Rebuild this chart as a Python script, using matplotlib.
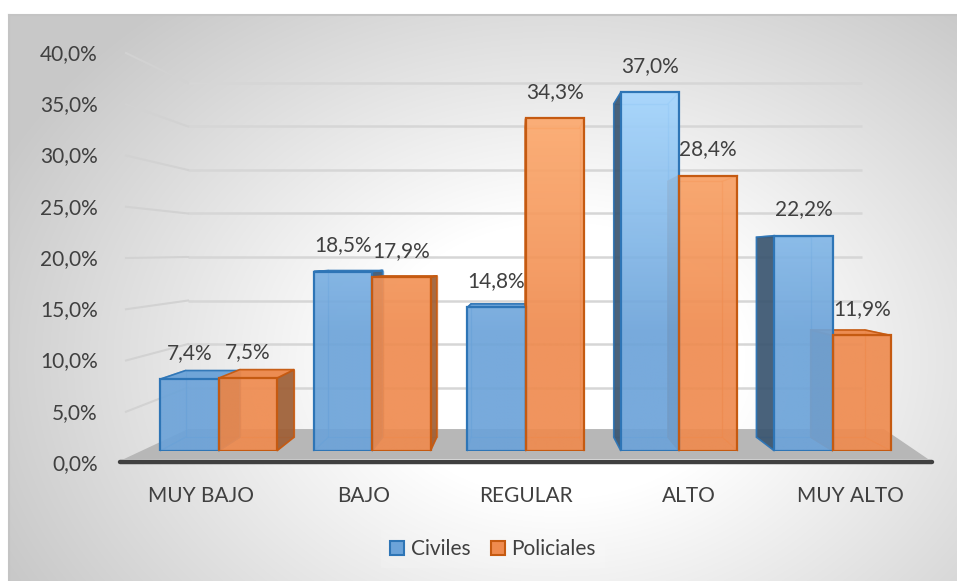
import numpy as np
import matplotlib
matplotlib.use("Agg")
import matplotlib.pyplot as plt
from matplotlib.patches import Polygon, Patch
from matplotlib.colors import to_rgb

# ---------------- data ----------------
categories = ["MUY BAJO", "BAJO", "REGULAR", "ALTO", "MUY ALTO"]
series_names = ["Civiles", "Policiales"]
civiles = [7.4, 18.5, 14.8, 37.0, 22.2]
policiales = [7.5, 17.9, 34.3, 28.4, 11.9]
y_ticks = [0, 5, 10, 15, 20, 25, 30, 35, 40]
y_tick_labels = ["0,0%", "5,0%", "10,0%", "15,0%", "20,0%", "25,0%", "30,0%", "35,0%", "40,0%"]

# ---------------- style ----------------
W, H = 957, 581
FONT = "Lato"
TXT = "#404040"
plt.rcParams["font.family"] = [FONT, "DejaVu Sans"]

STYLE = {
    "Civiles": dict(base="#6CA3D9", light="#A6D7FF", edge="#2E75B6", side="#3A5570",
                    top="#6AA2D8", inner="#4F8FCB"),
    "Policiales": dict(base="#EF8B4F", light="#FFAE72", edge="#C55A11", side="#9E5E35",
                       top="#EC8749", inner="#E07A3A"),
}

VPX, VPY = 520.0, 257.0          # vanishing point (image pixels)
S_BAR_FRONT = 0.945              # bar front plane depth factor
S_BAR_DEPTH = 0.93               # bar back relative to bar front
S_WALL_X, S_WALL_Y = 0.83, 0.849  # back wall depth factors

fig = plt.figure(figsize=(W / 100, H / 100), dpi=100)

# ---------------- background (pixel coordinates) ----------------
ax_bg = fig.add_axes([0, 0, 1, 1])
ax_bg.set_xlim(0, W)
ax_bg.set_ylim(H, 0)
ax_bg.axis("off")
yy, xx = np.mgrid[0:H, 0:W]
d = np.sqrt(((xx - 560) / 560.0) ** 2 + ((yy - 360) / 420.0) ** 2)
t = np.clip((d - 0.33) / 0.78, 0, 1)
g = (255 - 55 * t) / 255.0
g[(xx < 8) | (yy < 14)] = 1.0
ax_bg.imshow(np.dstack([g, g, g]), extent=(0, W, H, 0), aspect="auto",
             interpolation="bilinear", zorder=0)
ax_bg.plot([8.5, 8.5], [H, 14.5], color="#C4C4C4", lw=1.5, zorder=1)
ax_bg.plot([8.5, W], [14.5, 14.5], color="#C4C4C4", lw=1.5, zorder=1)
ax_bg.set_xlim(0, W)
ax_bg.set_ylim(H, 0)
ax_bg.set_autoscale_on(False)

# ---------------- front (tick) plane ----------------
L, R, B0, T40 = 120, 932, 462, 52
ax_t = fig.add_axes([L / W, 1 - B0 / H, (R - L) / W, (B0 - T40) / H])
ax_t.set_xlim(-0.5, len(categories) - 0.5)
ax_t.set_ylim(0, 40)
ax_t.set_autoscale_on(False)
ax_t.patch.set_visible(False)
for sp in ax_t.spines.values():
    sp.set_visible(False)
ax_t.set_yticks(y_ticks)
ax_t.set_yticklabels(y_tick_labels)
ax_t.set_xticks(range(len(categories)))
ax_t.set_xticklabels(categories)
ax_t.tick_params(axis="both", length=0, labelsize=15, labelcolor=TXT)
ax_t.tick_params(axis="y", pad=16)
ax_t.tick_params(axis="x", pad=17)
ax_t.plot([-0.5, len(categories) - 0.5], [0, 0], color="#404040", lw=3.2,
          solid_capstyle="round", clip_on=False, zorder=5)


def to_px(ax, x, y):
    pts = ax.transData.transform(np.column_stack([np.atleast_1d(x), np.atleast_1d(y)]))
    return pts[:, 0], H - pts[:, 1]


def persp(px, py, sx, sy=None):
    sy = sx if sy is None else sy
    return VPX + sx * (np.asarray(px) - VPX), VPY + sy * (np.asarray(py) - VPY)


# back wall + side wall gridlines
for v in y_ticks[1:]:
    fx, fy = to_px(ax_t, [-0.5, len(categories) - 0.5], [v, v])
    wx, wy = persp(fx, fy, S_WALL_X, S_WALL_Y)
    ax_bg.plot(wx, wy, color="#D6D6D6", lw=1.8, zorder=2, solid_capstyle="butt")
    ax_bg.plot([fx[0] + 6, wx[0]], [fy[0] + 1, wy[0]], color="#D2D2D2", lw=1.5, zorder=2)

# floor
fx, fy = to_px(ax_t, [-0.5, len(categories) - 0.5], [0, 0])
wx, wy = persp(fx, fy, S_WALL_X, S_WALL_Y)
floor = Polygon([(fx[0] + 4, fy[0] - 3), (wx[0], wy[0] - 2), (wx[1] + 22, wy[1] - 2),
                 (fx[1] - 4, fy[1] - 3)], closed=True, facecolor="#B7B7B7",
                edgecolor="none", zorder=3)
ax_bg.add_patch(floor)

# ---------------- bar plane ----------------
bx, by = persp([L, R], [B0, T40], S_BAR_FRONT)
ax_b = fig.add_axes([bx[0] / W, 1 - by[0] / H, (bx[1] - bx[0]) / W, (by[0] - by[1]) / H])
ax_b.axis("off")
ax_b.set_xlim(-0.5, len(categories) - 0.5)
ax_b.set_ylim(0, 40)
ax_b.set_autoscale_on(False)

x = np.arange(len(categories))
w = 0.38
series = [(series_names[0], civiles, x - w / 2), (series_names[1], policiales, x + w / 2)]


def color_at(st, v):
    c0 = np.array(to_rgb(st["base"]))
    c1 = np.array(to_rgb(st["light"]))
    f = np.clip((v - 12.0) / 26.0, 0, 1)[:, None]
    return c0 + (c1 - c0) * f


for name, vals, xs in series:
    st = STYLE[name]
    bars = ax_b.bar(xs, vals, w, facecolor="none", edgecolor=st["edge"], lw=1.6, zorder=4)
    for rect, xc, v in zip(bars, xs, vals):
        # gradient front face
        hv = np.linspace(0, v, 120)
        cols = color_at(st, hv)
        rgba = np.concatenate([cols, np.full((len(hv), 1), 0.92)], axis=1)[:, None, :]
        im = ax_b.imshow(rgba, extent=(xc - w / 2, xc + w / 2, 0, v), origin="lower",
                         aspect="auto", interpolation="bilinear", zorder=3)
        im.set_clip_path(rect)

        # 3D faces computed from the bar geometry
        x0, x1 = xc - w / 2, xc + w / 2
        fxs, fys = to_px(ax_b, [x0, x1, x1, x0], [0, 0, v, v])
        bxs, bys = persp(fxs, fys, S_BAR_DEPTH)
        # back outline (seen through)
        ax_bg.add_patch(Polygon(np.column_stack([bxs, bys]), closed=True, facecolor="none",
                                edgecolor=st["inner"], lw=1.0, alpha=0.7, zorder=5))
        for k in range(4):
            ax_bg.plot([fxs[k], bxs[k]], [fys[k], bys[k]], color=st["inner"], lw=1.0,
                       alpha=0.7, zorder=5)
        # side face
        cx = fxs[:2].mean()
        if cx < VPX:
            side = [(fxs[1], fys[1]), (fxs[2], fys[2]), (bxs[2], bys[2]), (bxs[1], bys[1])]
        else:
            side = [(fxs[0], fys[0]), (fxs[3], fys[3]), (bxs[3], bys[3]), (bxs[0], bys[0])]
        ax_bg.add_patch(Polygon(side, closed=True, facecolor=st["side"], edgecolor=st["edge"],
                                lw=1.2, alpha=0.92, zorder=6))
        # top face
        if fys[2] > VPY:
            top = [(fxs[3], fys[3]), (fxs[2], fys[2]), (bxs[2], bys[2]), (bxs[3], bys[3])]
            ax_bg.add_patch(Polygon(top, closed=True, facecolor=st["top"], edgecolor=st["edge"],
                                    lw=1.2, alpha=0.95, zorder=6))
        # data label
        ax_b.annotate(f"{v:.1f}".replace(".", ",") + "%", (xc, v), xytext=(0, 19),
                      textcoords="offset points", ha="center", va="center",
                      fontsize=15, color=TXT, zorder=10)

ax_b.set_xlim(-0.5, len(categories) - 0.5)
ax_b.set_ylim(0, 40)

# ---------------- legend ----------------
handles = [Patch(facecolor=STYLE[n]["base"], edgecolor=STYLE[n]["edge"], lw=1.5)
           for n in series_names]
leg = fig.legend(handles, series_names, loc="center", bbox_to_anchor=(493 / W, 1 - 549 / H),
                 ncol=2, frameon=True, fontsize=15, handlelength=0.68, handleheight=0.68,
                 handletextpad=0.3, columnspacing=1.0, fancybox=False, borderpad=0.45)
leg.get_frame().set_facecolor("white")
leg.get_frame().set_alpha(0.12)
leg.get_frame().set_edgecolor("none")
for txt in leg.get_texts():
    txt.set_color(TXT)

fig.savefig("out.png", dpi=100)
